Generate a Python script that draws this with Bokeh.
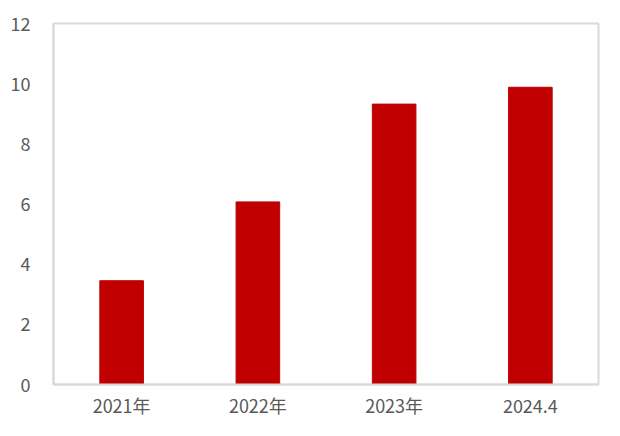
from bokeh.embed import file_html
from bokeh.models import FixedTicker
from bokeh.plotting import figure
from bokeh.resources import INLINE

CATEGORIES = ["2021年", "2022年", "2023年", "2024.4"]
VALUES = [3.45, 6.07, 9.32, 9.88]
Y_TICKS = [0, 2, 4, 6, 8, 10, 12]

BAR_COLOR = "#C00000"
TEXT_COLOR = "#595959"
FRAME_COLOR = "#D9D9D9"
FONT = "Noto Sans CJK SC"

p = figure(x_range=CATEGORIES, y_range=(0, 12), width=604, height=420,
           output_backend="svg", toolbar_location=None, tools="",
           min_border_left=53, min_border_right=6,
           min_border_top=23, min_border_bottom=36)

p.vbar(x=CATEGORIES, top=VALUES, width=0.32, color=BAR_COLOR)

p.x_range.range_padding = 0
p.xgrid.grid_line_color = None
p.ygrid.grid_line_color = None
p.outline_line_color = FRAME_COLOR
p.outline_line_width = 2
p.background_fill_color = "white"
p.border_fill_color = "white"

p.yaxis.ticker = FixedTicker(ticks=Y_TICKS)
for ax in (p.xaxis, p.yaxis):
    ax.axis_line_color = FRAME_COLOR
    ax.axis_line_width = 2
    ax.major_tick_line_color = None
    ax.minor_tick_line_color = None
    ax.major_label_text_color = TEXT_COLOR
    ax.major_label_text_font = FONT
    ax.major_label_text_font_size = "18px"

p.yaxis.major_label_standoff = 17
p.xaxis.major_label_standoff = 1

open("out.html", "w").write(file_html(p, INLINE))
